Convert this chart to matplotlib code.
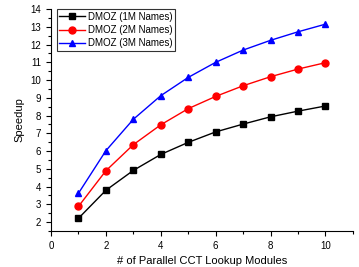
import matplotlib
matplotlib.use("Agg")
import matplotlib.pyplot as plt
from matplotlib.ticker import MultipleLocator

x = [1, 2, 3, 4, 5, 6, 7, 8, 9, 10]
s1m = [2.21, 3.79, 4.91, 5.81, 6.49, 7.08, 7.52, 7.93, 8.25, 8.54]
s2m = [2.88, 4.89, 6.36, 7.48, 8.39, 9.08, 9.68, 10.19, 10.62, 10.98]
s3m = [3.62, 6.02, 7.79, 9.12, 10.15, 11.0, 11.69, 12.24, 12.72, 13.15]
labels = ["DMOZ (1M Names)", "DMOZ (2M Names)", "DMOZ (3M Names)"]

plt.rcParams['font.family'] = ['Liberation Sans', 'DejaVu Sans']
fig = plt.figure(figsize=(3.59, 2.67), dpi=100)
ax = fig.add_axes([0.142, 0.135, 0.841, 0.831])

ax.plot(x, s1m, color='black', marker='s', ms=4.5, lw=1, label=labels[0])
ax.plot(x, s2m, color='red', marker='o', ms=5, lw=1, label=labels[1])
ax.plot(x, s3m, color='blue', marker='^', ms=5, lw=1, label=labels[2])

ax.set_xlim(0, 11)
ax.set_ylim(1.5, 14)
ax.xaxis.set_major_locator(MultipleLocator(2))
ax.xaxis.set_minor_locator(MultipleLocator(1))
ax.yaxis.set_minor_locator(MultipleLocator(0.5))
ax.set_yticks(range(2, 15))
ax.spines['top'].set_visible(False)
ax.spines['right'].set_visible(False)
ax.tick_params(which='both', direction='out', labelsize=7, width=0.8)
ax.tick_params(which='major', length=3.5)
ax.tick_params(which='minor', length=2)
ax.set_xlabel("# of Parallel CCT Lookup Modules", fontsize=8)
ax.set_ylabel("Speedup", fontsize=8)

leg = ax.legend(loc='upper left', bbox_to_anchor=(0.02, 1.0), fontsize=7,
                frameon=True, fancybox=False, edgecolor='black',
                borderpad=0.25, labelspacing=0.35, handlelength=2.6,
                handletextpad=0.3, borderaxespad=0.0)
leg.get_frame().set_linewidth(0.8)

fig.savefig("out.png", dpi=100)
